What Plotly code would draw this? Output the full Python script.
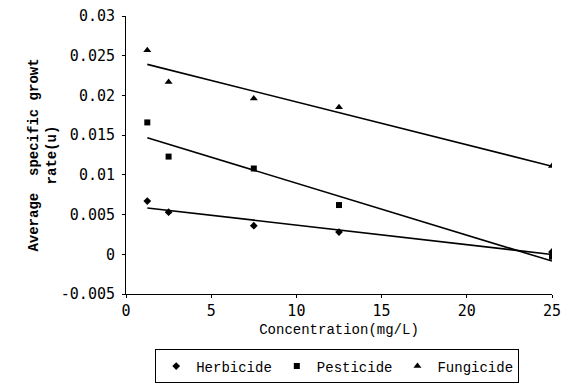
import numpy as np
import plotly.graph_objects as go

conc = [1.25, 2.5, 7.5, 12.5, 25]
herbicide = [0.0067, 0.0053, 0.0036, 0.0028, 0.0003]
pesticide = [0.0166, 0.0123, 0.0108, 0.0062, -0.0003]
fungicide = [0.0257, 0.0217, 0.0196, 0.0185, 0.0111]
names = ["Herbicide", "Pesticide", "Fungicide"]
symbols = ["diamond", "square", "triangle-up"]
sizes = [6, 6, 7]
y_ticks = [0.03, 0.025, 0.02, 0.015, 0.01, 0.005, 0, -0.005]
y_tick_text = ["0.03", "0.025", "0.02", "0.015", "0.01", "0.005", "0", "-0.005"]
x_ticks = [0, 5, 10, 15, 20, 25]

fig = go.Figure()
for name, ys, sym, sz in zip(names, [herbicide, pesticide, fungicide], symbols, sizes):
    fig.add_trace(go.Scatter(x=conc, y=ys, mode="markers", name=name,
                             marker=dict(symbol=sym, size=sz, color="black")))
for ys in [herbicide, pesticide, fungicide]:
    k, b = np.polyfit(conc, ys, 1)
    xs = np.array([conc[0], conc[-1]])
    fig.add_trace(go.Scatter(x=xs, y=k * xs + b, mode="lines", showlegend=False,
                             line=dict(color="black", width=1.6), hoverinfo="skip"))

mono = "Liberation Mono, DejaVu Sans Mono, monospace"
fig.update_layout(
    width=562, height=385, paper_bgcolor="white", plot_bgcolor="white",
    margin=dict(l=126, r=10, t=16, b=91, autoexpand=False),
    font=dict(family="DejaVu Sans Mono, monospace", size=15, color="black"),
    xaxis=dict(range=[0, 25], tickvals=x_ticks, showline=True, linecolor="black",
               linewidth=1, ticks="outside", ticklen=3, tickcolor="black",
               showgrid=False, zeroline=False, automargin=False,
               title=dict(text="Concentration(mg/L)", font=dict(family=mono, size=14), standoff=5)),
    yaxis=dict(range=[-0.005, 0.03], tickvals=y_ticks, ticktext=y_tick_text,
               showline=True, linecolor="black", linewidth=1, ticks="outside",
               ticklen=3, tickcolor="black", showgrid=False, zeroline=False,
               automargin=False, ticklabelstandoff=4,
               title=dict(text="<b>Average  specific growt</b><br><b>rate(u)</b>",
                          font=dict(family=mono, size=14), standoff=0)),
    legend=dict(orientation="h", xref="container", x=0.6, xanchor="center",
                yref="container", y=0.004, yanchor="bottom",
                bordercolor="black", borderwidth=1, bgcolor="white",
                font=dict(family=mono, size=14), itemwidth=30, tracegroupgap=0),
)
fig.write_html("out.html")
